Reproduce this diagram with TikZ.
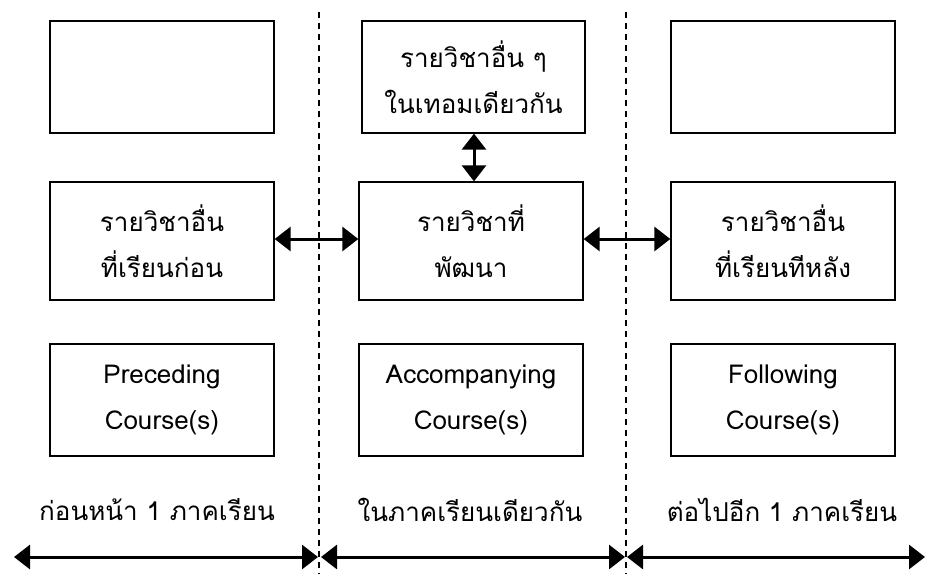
\documentclass[tikz,border=0pt]{standalone}
\usepackage{fontspec}
\setmainfont{Loma}[Script=Thai]
\usetikzlibrary{arrows.meta}
\begin{document}
\begin{tikzpicture}[x=1pt,y=-1pt,
  box/.style={draw,line width=1.3pt,minimum width=224pt,inner sep=0pt,align=center,font=\fontsize{26}{46}\selectfont},
  link/.style={line width=3pt,{Triangle[length=16pt,width=24pt]}-{Triangle[length=16pt,width=24pt]}},
  divider/.style={line width=1.3pt,dash pattern=on 6pt off 5pt},
  lbl/.style={font=\fontsize{26}{30}\selectfont,inner sep=0pt}]
\useasboundingbox (0,0) rectangle (927,574);
% dividers
\coordinate (d1t) at (319,12); \coordinate (d1b) at (319,574);
\coordinate (d2t) at (626,12); \coordinate (d2b) at (626,574);
\draw[divider] (d1t) -- (d1b);
\draw[divider] (d2t) -- (d2b);
% top row
\node[box,minimum height=112pt] (lt) at (162,77) {};
\node[box,minimum height=112pt,minimum width=223pt] (mt) at (473.5,77) {รายวิชาอื่น ๆ\\ในเทอมเดียวกัน};
\node[box,minimum height=112pt] (rt) at (783,77) {};
% middle row
\node[box,minimum height=118pt] (lm) at (162,241) {รายวิชาอื่น\\ที่เรียนก่อน};
\node[box,minimum height=118pt] (mm) at (471,241) {รายวิชาที่\\พัฒนา};
\node[box,minimum height=118pt] (rm) at (783,241) {รายวิชาอื่น\\ที่เรียนทีหลัง};
% bottom row
\node[box,minimum height=112pt] (lb) at (162,400) {Preceding\\Course(s)};
\node[box,minimum height=112pt] (mb) at (471,400) {Accompanying\\Course(s)};
\node[box,minimum height=112pt] (rb) at (783,400) {Following\\Course(s)};
% links
\draw[link] ([yshift=2pt]lm.east) -- ([yshift=2pt]mm.west);
\draw[link] ([yshift=2pt]mm.east) -- ([yshift=2pt]rm.west);
\draw[link] (mt.south -| 474,0) -- (mm.north -| 474,0);
% bottom labels
\node[lbl] (t1) at (157,510) {ก่อนหน้า 1 ภาคเรียน};
\node[lbl] (t2) at (470,510) {ในภาคเรียนเดียวกัน};
\node[lbl] (t3) at (782,510) {ต่อไปอีก 1 ภาคเรียน};
% time arrows
\coordinate (a1) at (14,557); \coordinate (a2) at (318,557);
\coordinate (b1) at (321,557); \coordinate (b2) at (625,557);
\coordinate (c1) at (627,557); \coordinate (c2) at (925,557);
\draw[link] (a1) -- (a2);
\draw[link] (b1) -- (b2);
\draw[link] (c1) -- (c2);
\end{tikzpicture}
\end{document}
